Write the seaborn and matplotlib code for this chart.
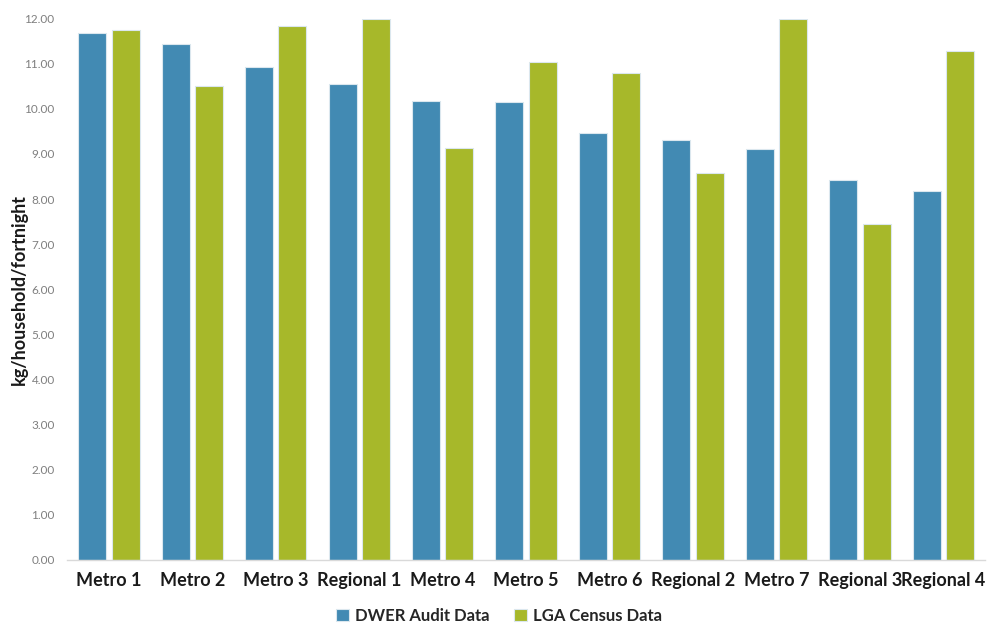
import matplotlib
matplotlib.use("Agg")
import matplotlib.pyplot as plt
import seaborn as sns
import pandas as pd
from matplotlib.ticker import FormatStrFormatter

categories = ["Metro 1", "Metro 2", "Metro 3", "Regional 1", "Metro 4", "Metro 5",
              "Metro 6", "Regional 2", "Metro 7", "Regional 3", "Regional 4"]
dwer_audit = [11.68, 11.45, 10.92, 10.56, 10.18, 10.16, 9.46, 9.30, 9.12, 8.43, 8.19]
lga_census = [11.74, 10.51, 11.85, 12.00, 9.14, 11.04, 10.79, 8.57, 12.00, 7.45, 11.28]
series_names = ["DWER Audit Data", "LGA Census Data"]
y_ticks = [0, 1, 2, 3, 4, 5, 6, 7, 8, 9, 10, 11, 12]

df = pd.DataFrame({
    "Area": categories * 2,
    "Value": dwer_audit + lga_census,
    "Source": [series_names[0]] * len(categories) + [series_names[1]] * len(categories),
})

sns.set_theme(style="white")
plt.rcParams["font.family"] = ["Lato", "DejaVu Sans"]

fig = plt.figure(figsize=(9.88, 6.26), dpi=100)
ax = fig.add_axes([0.068, 0.106, 0.929, 0.864])

palette = {series_names[0]: "#428ab3", series_names[1]: "#a7b82a"}
sns.barplot(data=df, x="Area", y="Value", hue="Source", palette=palette,
            width=0.8, gap=0.16, saturation=1, ax=ax,
            edgecolor="#dbe7ee", linewidth=0.8)

ax.set_ylim(0, 12)
ax.set_xlim(-0.5, len(categories) - 0.5)
ax.set_yticks(y_ticks)
ax.yaxis.set_major_formatter(FormatStrFormatter("%.2f"))
ax.tick_params(axis="y", labelsize=8.5, labelcolor="#7f7f7f", length=0, pad=9)
ax.tick_params(axis="x", labelsize=13, length=0, pad=9)
for lbl in ax.get_xticklabels():
    lbl.set_fontweight("bold")
    lbl.set_color("#1a1a1a")

ax.set_xlabel("")
ax.set_ylabel("kg/household/fortnight", fontsize=13, fontweight="bold", color="#1a1a1a")
ax.yaxis.set_label_coords(-0.043, 0.5)

for side in ["top", "right", "left"]:
    ax.spines[side].set_visible(False)
ax.spines["bottom"].set_color("#d9d9d9")
ax.spines["bottom"].set_linewidth(1)

handles, labels = ax.get_legend_handles_labels()
ax.get_legend().remove()
fig.legend(handles, labels, loc="center", bbox_to_anchor=(0.505, 0.016),
           ncol=2, frameon=False, handlelength=0.75, handleheight=0.75,
           columnspacing=1.5, handletextpad=0.35,
           prop={"weight": "bold", "size": 12})

fig.savefig("out.png", dpi=100, facecolor="white")
